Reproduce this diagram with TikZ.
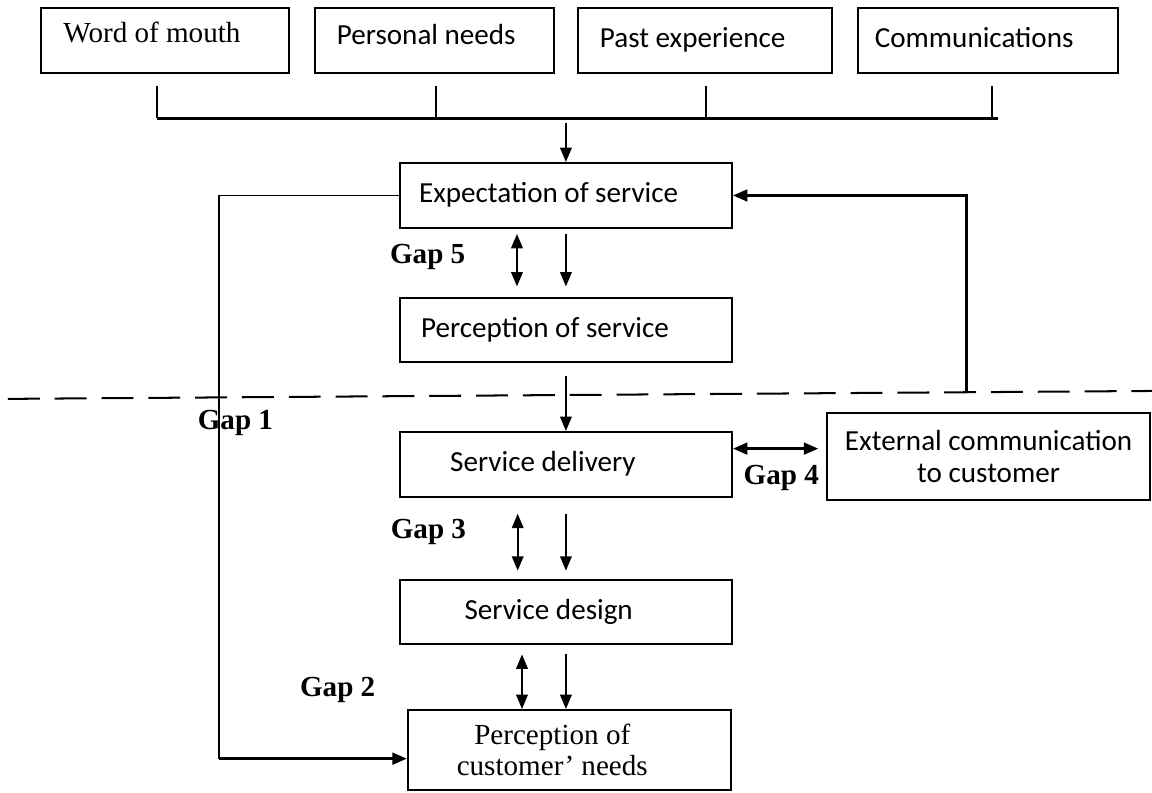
\documentclass[tikz,border=0pt]{standalone}
\usepackage{fontspec}
\setmainfont{Carlito}
\newfontfamily\timesfont{Liberation Serif}
\usetikzlibrary{arrows.meta}
\tikzset{>={Triangle[length=.2cm,width=.16cm]}}
\newcommand{\diagsize}{\fontsize{11.5}{12.5}\selectfont}
\tikzset{
	stagebox/.style={draw, thick, minimum width=#1, minimum height=.9cm},
	boxtext/.style={text height=1.7ex, text depth=.5ex},
	gaplabel/.style={font=\diagsize\timesfont\bfseries},
}

\begin{document}
\begin{tikzpicture}[every node/.style={font=\diagsize}]
\useasboundingbox (0,0) rectangle (16,11);

% sources of expectation
\node[stagebox=3.44cm, label={[boxtext,xshift=-.18cm,yshift=.07cm]center:\timesfont Word of mouth}] (mouth) at (2.29,10.44) {};
\node[stagebox=3.32cm, label={[boxtext,xshift=-.11cm,yshift=.04cm]center:Personal needs}] (personal) at (6.03,10.44) {};
\node[stagebox=3.53cm, label={[boxtext,xshift=-.17cm]center:Past experience}] (past) at (9.79,10.44) {};
\node[stagebox=3.61cm, label={[boxtext,xshift=-.19cm]center:Communications}] (comms) at (13.72,10.44) {};

% collecting bus
\coordinate (busL) at (2.18,9.36);
\coordinate (busR) at (13.86,9.36);
\draw[line width=1.2pt] (busL) -- (busR);
\foreach \src/\dx in {mouth/-.11, personal/.03, past/.02, comms/.06}
	\draw[thick,shorten <=.17cm] ([xshift=\dx cm]\src.south) -- ([xshift=\dx cm]\src.south |- busL);

% customer side
\node[stagebox=4.61cm, label={[boxtext,xshift=-.24cm]center:Expectation of service}] (expect) at (7.86,8.285) {};
\node[stagebox=4.61cm, label={[boxtext,xshift=-.29cm]center:Perception of service}] (percept) at (7.86,6.417) {};

% provider side
\node[stagebox=4.61cm, label={[boxtext,xshift=-.32cm]center:Service delivery}] (deliv) at (7.86,4.549) {};
\node[stagebox=4.61cm, label={[boxtext,xshift=-.24cm]center:Service design}] (design) at (7.86,2.5) {};
\node[stagebox=4.49cm, minimum height=1.11cm,
	label={[align=center,xshift=-.24cm,font=\diagsize\timesfont]center:{Perception of\\customer’ needs}}] (custneeds) at (7.91,.583) {};
\node[stagebox=4.48cm, minimum height=1.21cm, align=center] (extcomm) at (13.73,4.66) {External communication\\to customer};

% line of visibility
\coordinate (cutL) at (.11,5.46);
\coordinate (cutR) at (16,5.57);
\draw[thick, dash pattern=on 12.6pt off 5.9pt] (cutL) -- (cutR);

% flow down the chain
\draw[thick,->,shorten <=.07cm] (expect.north |- busL) -- (expect.north);
\draw[thick,->,shorten <=.18cm] (percept.south) -- (deliv.north);
\foreach \src/\dst/\dx/\ga/\gb in {expect/percept/-.68/.07/.14, deliv/design/-.67/.22/.11, design/custneeds/-.61/.125/0}{
	\draw[thick,<->,shorten <=\ga cm,shorten >=\gb cm] ([xshift=\dx cm]\src.south) -- ([xshift=\dx cm]\src.south |- \dst.north);
	\draw[thick,->,shorten <=\ga cm,shorten >=\gb cm] (\src.south) -- (\src.south |- \dst.north);
}

% gap 4 link
\draw[line width=1.1pt,<->,shorten >=.11cm] ([yshift=.22cm]deliv.east) -- ([yshift=.22cm]deliv.east -| extcomm.west);

% gap 1 loop
\coordinate (rail) at (3.04,0);
\coordinate (needsin) at ([yshift=-.12cm]custneeds.west);
\draw[semithick] (expect.west) -| (rail |- needsin);
\draw[line width=1.1pt,->] (rail |- needsin) -- (needsin);

% feedback to expectation
\coordinate (fbfoot) at (13.42,5.55);
\draw[line width=1.1pt,->] (fbfoot) |- (expect.east);

% gap labels
\node[gaplabel] (gapfive) at (5.94,7.43) {Gap 5};
\node[gaplabel] (gapone) at (3.27,5.125) {Gap 1};
\node[gaplabel] (gapfour) at (10.85,4.36) {Gap 4};
\node[gaplabel] (gapthree) at (5.95,3.61) {Gap 3};
\node[gaplabel] (gaptwo) at (4.69,1.417) {Gap 2};

\end{tikzpicture}
\end{document}
